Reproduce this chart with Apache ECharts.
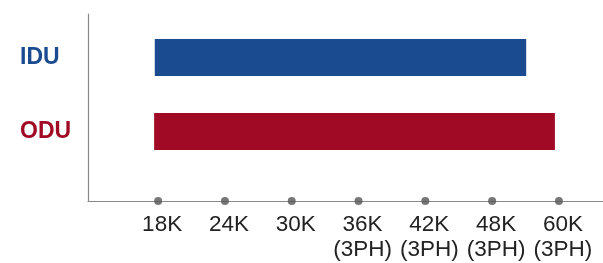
<!DOCTYPE html>
<html>
<head>
<meta charset="utf-8">
<script src="https://cdn.jsdelivr.net/npm/echarts@6/dist/echarts.min.js"></script>
<style>
  html, body { margin: 0; padding: 0; background: #fff; }
  #chart { width: 603px; height: 263px; }
</style>
</head>
<body>
<div id="chart"></div>
<script>
// capacity steps, placed at index 0..6 on the x axis
const capacities = ['18K', '24K', '30K', '36K\n(3PH)', '42K\n(3PH)', '48K\n(3PH)', '60K\n(3PH)']
const units = ['IDU', 'ODU']
const unitColors = ['#1a4a8f', '#a00a24']
// bar extent, in capacity index units
const rangeStart = [-0.05, -0.06]
const rangeEnd = [5.51, 5.94]

const tickIndex = capacities.map((_, i) => i)
const xMin = -1.05
const xMax = 6.66

const chart = echarts.init(document.getElementById('chart'))

const option = {
  backgroundColor: '#fff',
  animation: false,
  grid: [
    { left: 88, right: 0, top: 20.5, height: 148 },
    { left: 88, right: 0, top: 14, bottom: 62 }
  ],
  xAxis: [
    { gridIndex: 0, type: 'value', min: xMin, max: xMax, show: false },
    {
      gridIndex: 1, type: 'value', min: xMin, max: xMax,
      splitLine: { show: false },
      axisLine: { show: true, onZero: false, lineStyle: { color: '#888', width: 1.2 } },
      axisTick: { show: false },
      axisLabel: {
        customValues: tickIndex,
        formatter: v => capacities[Math.round(v)] || '',
        color: '#222',
        fontFamily: 'Liberation Sans, Arial, sans-serif',
        fontSize: 22.5,
        lineHeight: 25.5,
        margin: 11,
        padding: [0, 0, 0, 8]
      }
    }
  ],
  yAxis: [
    {
      gridIndex: 0, type: 'category', data: units, inverse: true,
      axisLine: { show: false },
      axisTick: { show: false },
      axisLabel: {
        align: 'left',
        margin: 68,
        fontFamily: 'Liberation Sans, Arial, sans-serif',
        fontWeight: 'bold',
        fontSize: 23,
        color: (val, idx) => unitColors[idx]
      }
    },
    {
      gridIndex: 1, type: 'value', min: 0, max: 1,
      splitLine: { show: false },
      axisLabel: { show: false },
      axisTick: { show: false },
      axisLine: { show: true, onZero: false, lineStyle: { color: '#888', width: 1.2 } }
    }
  ],
  series: [
    {
      type: 'bar',
      stack: 'range',
      stackStrategy: 'all',
      xAxisIndex: 0, yAxisIndex: 0,
      barWidth: 37,
      itemStyle: { color: 'transparent' },
      silent: true,
      data: rangeStart
    },
    {
      type: 'bar',
      stack: 'range',
      stackStrategy: 'all',
      xAxisIndex: 0, yAxisIndex: 0,
      barWidth: 37,
      data: rangeEnd.map((e, i) => ({
        value: e - rangeStart[i],
        itemStyle: { color: unitColors[i] }
      }))
    },
    {
      type: 'scatter',
      xAxisIndex: 1, yAxisIndex: 1,
      symbolSize: 8,
      clip: false,
      itemStyle: { color: '#555' },
      data: tickIndex.map(i => [i, 0])
    }
  ]
}

chart.setOption(option)
</script>
</body>
</html>
